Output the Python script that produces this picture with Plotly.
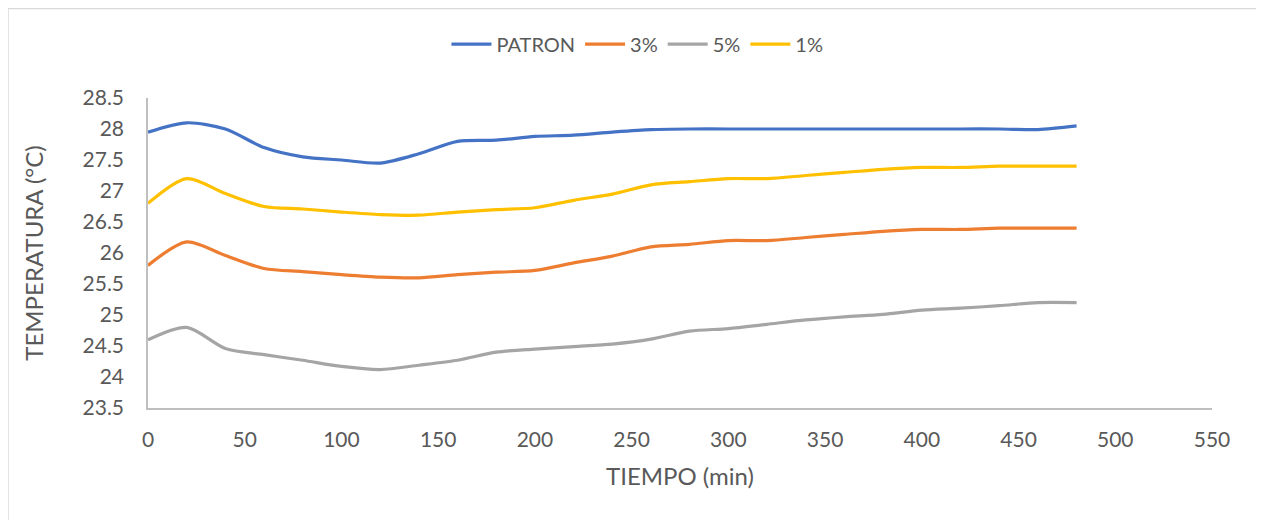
import plotly.graph_objects as go

tiempo = [0, 20, 40, 60, 80, 100, 120, 140, 160, 180, 200, 220, 240, 260, 280, 300,
          320, 340, 360, 380, 400, 420, 440, 460, 480]
patron = [27.95, 28.1, 28.0, 27.7, 27.55, 27.5, 27.45, 27.6, 27.8, 27.82, 27.88, 27.9, 27.95, 27.99, 28.0, 28.0,
          28.0, 28.0, 28.0, 28.0, 28.0, 28.0, 28.0, 27.99, 28.05]
pct3 = [25.8, 26.18, 25.96, 25.75, 25.7, 25.65, 25.61, 25.6, 25.65, 25.69, 25.72, 25.84, 25.95, 26.1, 26.14, 26.2,
        26.2, 26.25, 26.3, 26.35, 26.38, 26.38, 26.4, 26.4, 26.4]
pct5 = [24.6, 24.8, 24.46, 24.36, 24.27, 24.17, 24.12, 24.19, 24.27, 24.4, 24.45, 24.49, 24.53, 24.61, 24.74, 24.78,
        24.85, 24.92, 24.97, 25.01, 25.08, 25.11, 25.15, 25.2, 25.2]
pct1 = [26.8, 27.2, 26.96, 26.75, 26.71, 26.66, 26.62, 26.61, 26.66, 26.7, 26.73, 26.85, 26.95, 27.1, 27.15, 27.2,
        27.2, 27.25, 27.3, 27.35, 27.38, 27.38, 27.4, 27.4, 27.4]

series = [("PATRON", patron, "#4472C4"), ("3%", pct3, "#ED7D31"),
          ("5%", pct5, "#A5A5A5"), ("1%", pct1, "#FFC000")]

fig = go.Figure()
for name, vals, color in series:
    fig.add_trace(go.Scatter(x=tiempo, y=vals, name=name, mode="lines",
                             line=dict(color=color, width=3.2, shape="spline", smoothing=0.8)))

font = "Lato, Open Sans, sans-serif"
fig.update_layout(
    width=1256, height=512,
    margin=dict(l=140, r=52, t=90, b=112),
    paper_bgcolor="white", plot_bgcolor="white",
    font=dict(family=font, color="#595959"),
    showlegend=True,
    legend=dict(orientation="h", x=0.46, xanchor="center", y=1.174, yanchor="middle",
                font=dict(size=20, color="#595959"), itemwidth=40),
    xaxis=dict(range=[0, 550], tickmode="linear", tick0=0, dtick=50,
               showgrid=False, zeroline=False, showline=True, linecolor="#BFBFBF", linewidth=1.5,
               tickfont=dict(size=21, color="#595959"), ticklabelstandoff=12,
               title=dict(text="TIEMPO (min)", font=dict(size=24, color="#595959"), standoff=18)),
    yaxis=dict(range=[23.5, 28.5], tickmode="linear", tick0=23.5, dtick=0.5,
               showgrid=False, zeroline=False, showline=True, linecolor="#BFBFBF", linewidth=1.5,
               tickfont=dict(size=21, color="#595959"), ticklabelstandoff=18,
               title=dict(text="TEMPERATURA (°C)", font=dict(size=24, color="#595959"), standoff=32)),
    shapes=[dict(type="rect", xref="paper", yref="paper", x0=-0.1316, x1=1.0423, y0=-0.377, y1=1.2887,
                 line=dict(color="#D9D9D9", width=1.5), fillcolor="rgba(0,0,0,0)", layer="below")],
)

fig.write_html("out.html")
